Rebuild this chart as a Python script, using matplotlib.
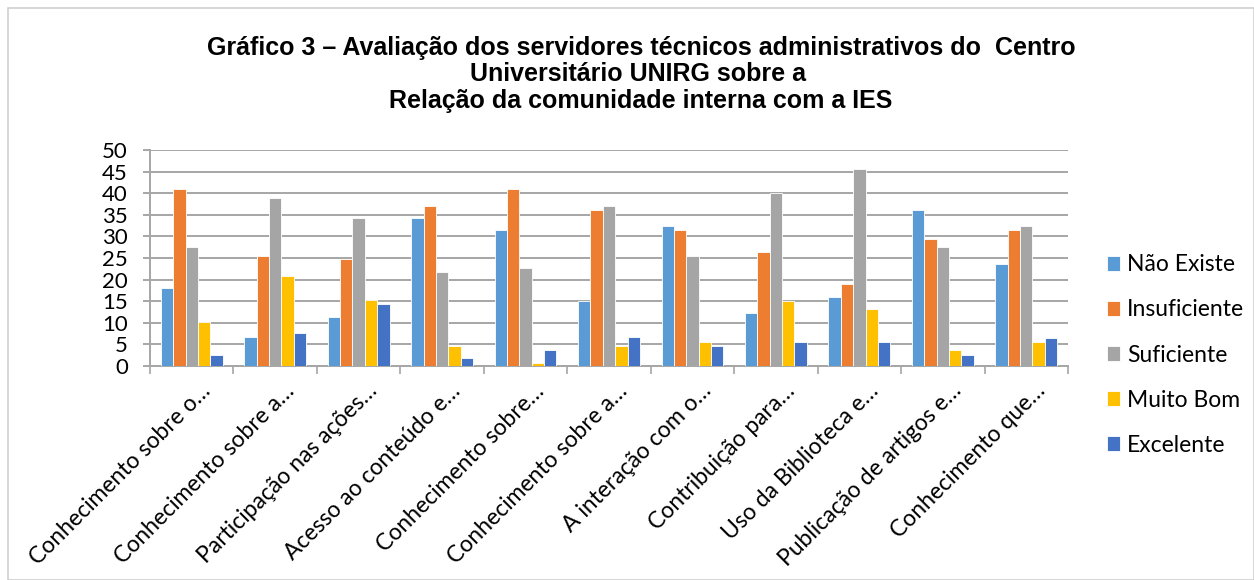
import numpy as np
import matplotlib.pyplot as plt
from matplotlib.patches import Rectangle
from matplotlib.transforms import ScaledTranslation

# Data (percentages)
categories = [
    "Conhecimento sobre o…",
    "Conhecimento sobre a…",
    "Participação nas ações…",
    "Acesso ao conteúdo e…",
    "Conhecimento sobre…",
    "Conhecimento sobre a…",
    "A interação com o…",
    "Contribuição para…",
    "Uso da Biblioteca e…",
    "Publicação de artigos e…",
    "Conhecimento que…",
]
series_names = ["Não Existe", "Insuficiente", "Suficiente", "Muito Bom", "Excelente"]
nao_existe   = [18.0, 6.6, 11.3, 34.3, 31.4, 15.1, 32.3, 12.2, 16.0, 36.0, 23.7]
insuficiente = [41.0, 25.5, 24.7, 37.0, 40.9, 36.1, 31.4, 26.5, 18.9, 29.4, 31.4]
suficiente   = [27.5, 39.0, 34.3, 21.8, 22.8, 37.0, 25.5, 40.0, 45.6, 27.5, 32.3]
muito_bom    = [10.3, 20.8, 15.2, 4.6, 0.8, 4.6, 5.6, 15.1, 13.1, 3.6, 5.5]
excelente    = [2.6, 7.6, 14.3, 1.8, 3.6, 6.6, 4.6, 5.5, 5.5, 2.6, 6.5]
yticks = [0, 5, 10, 15, 20, 25, 30, 35, 40, 45, 50]
title = ("Gráfico 3 – Avaliação dos servidores técnicos administrativos do  Centro\n"
         "Universitário UNIRG sobre a \n"
         "Relação da comunidade interna com a IES")

colors = ["#5B9BD5", "#ED7D31", "#A5A5A5", "#FFC000", "#4472C4"]
values = [nao_existe, insuficiente, suficiente, muito_bom, excelente]

plt.rcParams['font.family'] = ['Lato', 'DejaVu Sans']

fig = plt.figure(figsize=(12.54, 5.80), dpi=100)
ax = fig.add_axes([150/1254, 1 - 366/580, 918/1254, 216/580])

# Outer chart border
fig.patches.append(Rectangle((8/1254, 0), 1 - 8/1254, 1 - 8/580, transform=fig.transFigure,
                             fill=False, edgecolor="#D0D0D0", linewidth=1.2))

# Bars
x = np.arange(len(categories))
width = 0.148
for i, (name, vals) in enumerate(zip(series_names, values)):
    ax.bar(x + (i - 2) * width, vals, width, color=colors[i], label=name,
           edgecolor="white", linewidth=0.6, zorder=3)

# Axes styling
ax.set_xlim(-0.5, len(categories) - 0.5)
ax.set_ylim(0, 50)
ax.set_yticks(yticks)
ax.tick_params(axis='y', length=5, width=1.4, color="#A6A6A6", labelsize=16, pad=11)
ax.grid(True, axis='y', color="#A6A6A6", linewidth=1.4, zorder=0)
ax.set_axisbelow(True)

ax.set_xticks(x)
ax.set_xticklabels(categories, rotation=45, ha='right', rotation_mode='anchor', fontsize=16.5)
ax.tick_params(axis='x', length=0, pad=8)
shift = ScaledTranslation(8/100, -3/100, fig.dpi_scale_trans)
for lbl in ax.get_xticklabels():
    lbl.set_transform(lbl.get_transform() + shift)
ax.set_xticks(np.arange(-0.5, len(categories)), minor=True)
ax.tick_params(axis='x', which='minor', length=6, color="#A6A6A6", width=1.2)

for side in ['top', 'right']:
    ax.spines[side].set_visible(False)
for side in ['left', 'bottom']:
    ax.spines[side].set_color("#A6A6A6")
    ax.spines[side].set_linewidth(1.4)

# Legend
fig.legend(loc='center left', bbox_to_anchor=(1086/1254, 1 - 355/580), frameon=False,
           fontsize=16.5, handlelength=0.6, handleheight=0.6, handletextpad=0.3,
           labelspacing=1.05)

# Title
fig.text(641/1254, 1 - 36/580, title, ha='center', va='top', fontsize=18,
         fontweight='bold', family='Liberation Sans', linespacing=1.13)

fig.savefig("out.png", dpi=100)
